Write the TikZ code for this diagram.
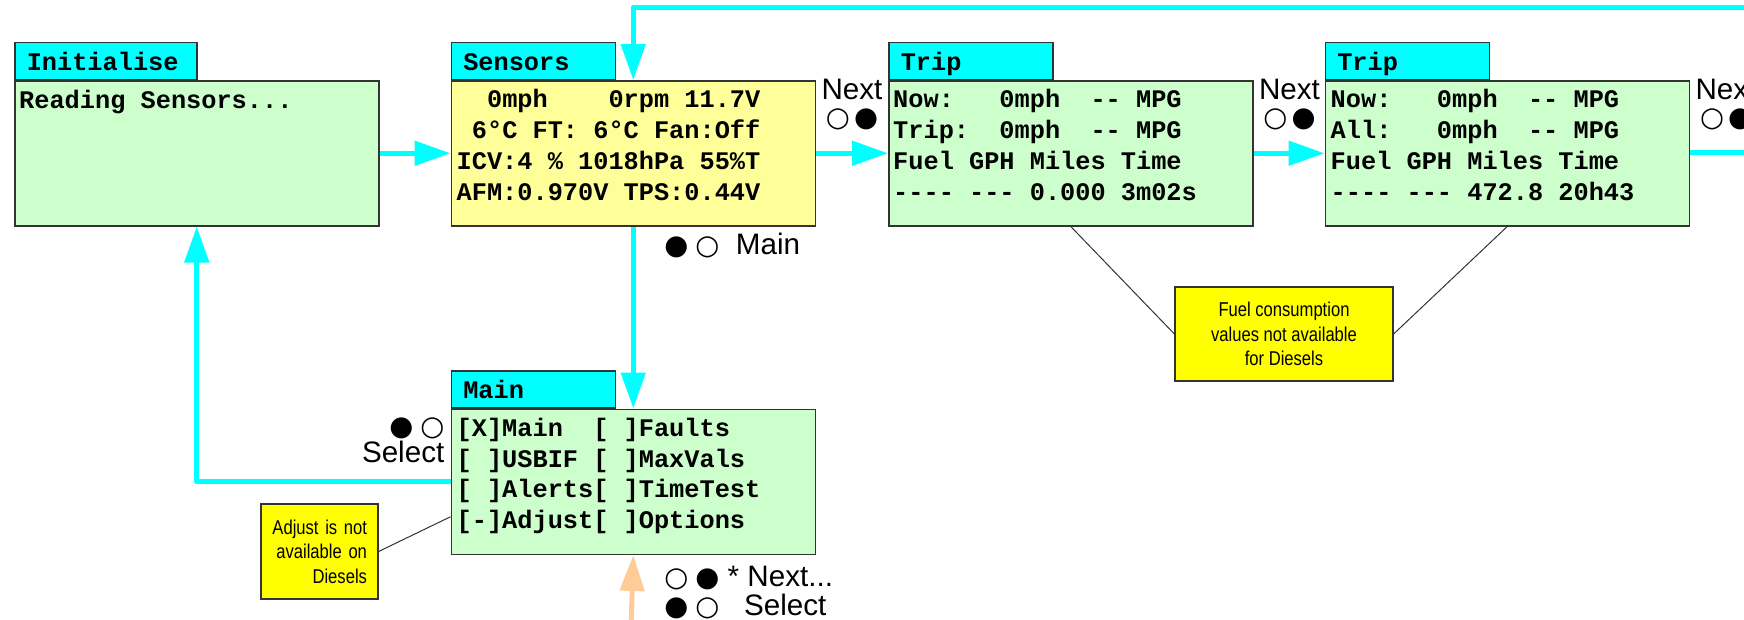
\documentclass[tikz,border=0pt]{standalone}
\usepackage{fontspec}
\setmainfont{Liberation Sans}
\newfontfamily\lcdfont[Ligatures=TeXOff]{Liberation Mono}
\newfontfamily\notefont[FakeStretch=0.83]{Liberation Sans}
\newfontfamily\dotfont[Scale=0.93]{DejaVu Sans}
\newcommand{\keyon}{{\dotfont ●}}
\newcommand{\keyoff}{{\dotfont ○}}
\usetikzlibrary{positioning,arrows.meta}
\definecolor{tabcyan}{HTML}{00FFFF}
\definecolor{screengreen}{HTML}{CCFFCC}
\definecolor{screenyellow}{HTML}{FFFF99}
\definecolor{noteyellow}{HTML}{FFFF00}
\definecolor{selectpeach}{HTML}{FFCC99}

\begin{document}
\begin{tikzpicture}[x=1pt, y=-1pt,
  screen/.style={draw=black!80, line width=1.5pt, fill=screengreen, minimum width=364pt, minimum height=145pt, inner sep=0pt, anchor=north west},
  tab/.style={draw=black!80, line width=1.5pt, fill=tabcyan, minimum height=37pt, text width=#1, inner xsep=12pt, inner ysep=0pt, align=left, text height=21.5pt, text depth=2.5pt, anchor=south west, font=\lcdfont\bfseries\fontsize{25.3}{30.7}\selectfont},
  lcd/.style={font=\lcdfont\bfseries\fontsize{25.3}{30.7}\selectfont, align=left, anchor=base west, inner sep=0pt},
  link/.style={color=tabcyan, line width=5pt, line join=round, -{Triangle[length=36pt,width=24pt]}},
  keys/.style={font=\fontsize{29.6}{27}\selectfont, inner sep=0pt},
  note/.style={draw=black!80, line width=1.2pt, fill=noteyellow, font=\notefont\fontsize{20}{24.5}\selectfont, inner ysep=0pt},
  pin/.style={draw=black!80, line width=1pt}]
\useasboundingbox (0,0) rectangle (1744,619);

% screens
\node[screen] (init) at (14,80) {};
\node[screen, fill=screenyellow, right=71pt of init] (sens) {};
\node[screen, right=72pt of sens] (tripA) {};
\node[screen, right=71pt of tripA] (tripB) {};
\node[screen, below=182pt of sens] (mainMenu) {};

% tabs
\node[tab=158pt] (initTab) at (init.north west) {Initialise};
\node[tab=140pt] (sensTab) at (sens.north west) {Sensors};
\node[tab=140pt] (tripATab) at (tripA.north west) {Trip};
\node[tab=140pt] (tripBTab) at (tripB.north west) {Trip};
\node[tab=140pt] (mainTab) at (mainMenu.north west) {Main};

% display lines (base = last line)
\node[lcd] (initText) at ([shift={(5pt,-28pt)}]init.north west) {Reading Sensors...};
\node[lcd] (sensText) at ([shift={(6pt,-120pt)}]sens.north west)
  {~~0mph~~~~0rpm 11.7V\\~6°C FT: 6°C Fan:Off\\ICV:4 \% 1018hPa 55\%T\\AFM:0.970V TPS:0.44V};
\node[lcd] (tripAText) at ([shift={(5pt,-120pt)}]tripA.north west)
  {Now:~~~0mph~~-- MPG\\Trip:~~0mph~~-- MPG\\Fuel GPH Miles Time\\---- --- 0.000 3m02s};
\node[lcd] (tripBText) at ([shift={(6pt,-120pt)}]tripB.north west)
  {Now:~~~0mph~~-- MPG\\All:~~~0mph~~-- MPG\\Fuel GPH Miles Time\\---- --- 472.8 20h43};
\node[lcd] (mainText) at ([shift={(6pt,-120pt)}]mainMenu.north west)
  {[X]Main~~[ ]Faults\\{}[ ]USBIF [ ]MaxVals\\{}[ ]Alerts[ ]TimeTest\\{}[-]Adjust[ ]Options};

% notes
\node[note, align=right, text width=95pt, inner xsep=11pt, minimum height=95pt] (noteAdjust) at (319.5,551.5)
  {Adjust is not\\available on\\Diesels};
\node[note, align=center, minimum width=218pt, minimum height=94pt] (noteFuel) at (1284,334)
  {Fuel consumption\\values not available\\for Diesels};
\coordinate (adjustRow) at ([yshift=-35pt]mainMenu.west);
\draw[pin] (noteAdjust.east) -- (adjustRow);
\draw[pin] (noteFuel.west) -- (tripA.south);
\draw[pin] (noteFuel.east) -- (tripB.south);

% connectors
\coordinate (loopIn) at (1760,7);
\coordinate (loopOut) at (1760,152.5);
\coordinate (selIn) at (631,630);
\draw[link] (init) -- (sens);
\draw[link] (sens) -- (tripA);
\draw[link] (tripA) -- (tripB);
\draw[link, -] (tripB) -- (loopOut);
\draw[link] (loopIn) -| (sens.north);
\draw[link] (sens) -- (mainMenu);
\draw[link] (mainMenu.west) -| (init.south);
\draw[link, color=selectpeach] (selIn) -- (mainMenu.south);

% button keys
\node[keys, align=center, anchor=north] (sensNext) at ([shift={(36pt,74.5pt)}]sens.east) {Next\\\keyoff\hspace{4pt}\keyon};
\node[keys, align=center, anchor=north] (tripANext) at ([shift={(36pt,74.5pt)}]tripA.east) {Next\\\keyoff\hspace{4pt}\keyon};
\node[keys, align=center, anchor=north] (tripBNext) at ([shift={(36pt,74.5pt)}]tripB.east) {Next\\\keyoff\hspace{4pt}\keyon};
\node[keys, anchor=base west] (sensKey) at ([shift={(31pt,-28pt)}]sens.south) {\keyon\hspace{7pt}\keyoff~~Main};
\node[keys, align=right, anchor=north east] (selKey) at ([shift={(-6pt,-9pt)}]mainMenu.north west) {\keyon\hspace{7pt}\keyoff\\Select};
\node[keys, align=left, anchor=north west, font=\fontsize{29.6}{29}\selectfont] (menuKey) at ([shift={(31pt,-11pt)}]mainMenu.south)
  {\keyoff\hspace{7pt}\keyon~*~Next...\\\keyon\hspace{7pt}\keyoff~~~Select};
\end{tikzpicture}
\end{document}
